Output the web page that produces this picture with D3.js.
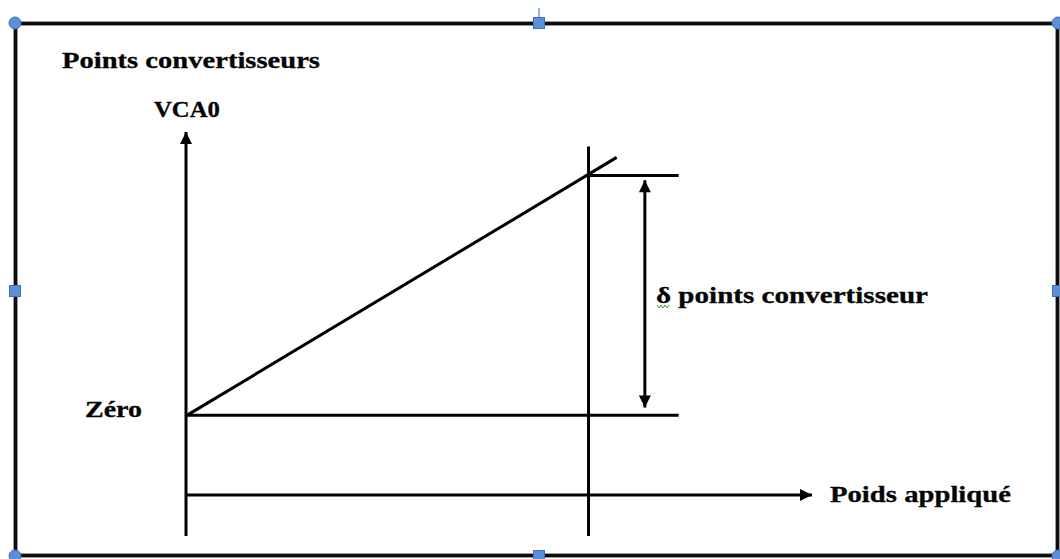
<!DOCTYPE html>
<html>
<head>
<meta charset="utf-8">
<script src="https://cdn.jsdelivr.net/npm/d3@7"></script>
<style>
  body { margin: 0; background: #fff; }
  text { font-family: "Liberation Serif", "DejaVu Serif", serif; font-weight: bold; fill: #050505; stroke: #050505; stroke-width: 0.3; }
</style>
</head>
<body>
<svg id="chart"></svg>
<script>
// schematic values (abstract units: weight 0..10, converter points 0..10)
const axisX = [0, 10];            // applied weight axis
const axisY = [-1.13, 10];        // converter points axis
const zeroLevel = 2.2;            // "Zéro"
const loadLevel = 8.8;            // reading under load
const loadWeight = 6.43;          // applied weight
const loadLineY = [-1.13, 9.6];   // vertical line at applied weight
const levelEnd = 7.87;            // end of the horizontal reference lines
const deltaX = 7.33;              // position of the delta arrow
const deltaRange = [8.67, 2.41];  // arrow tips
const calibLine = [[0.02, 2.2], [6.88, 9.3]];
const labels = {
  title: "Points convertisseurs",
  yName: "VCA0",
  zero: "Zéro",
  delta: "δ points convertisseur",
  xName: "Poids appliqué"
};

const width = 1060, height = 559;

const svg = d3.select("#chart")
    .attr("width", width)
    .attr("height", height);

const x = d3.scaleLinear().domain([0, 10]).range([186, 812]);
const y = d3.scaleLinear().domain([0, 10]).range([495, 132]);

// arrow head
const defs = svg.append("defs");
defs.append("marker")
    .attr("id", "head")
    .attr("viewBox", "0 0 10 10")
    .attr("refX", 10).attr("refY", 5)
    .attr("markerWidth", 4.2).attr("markerHeight", 4)
    .attr("markerUnits", "strokeWidth")
    .attr("orient", "auto-start-reverse")
    .append("path")
    .attr("d", "M0,0L10,5L0,10Z")
    .attr("fill", "#000");

// outer frame
svg.append("rect")
    .attr("x", 15.5).attr("y", 23.5)
    .attr("width", 1042).attr("height", 532)
    .attr("fill", "none").attr("stroke", "#9a9a9a").attr("stroke-width", 5);
svg.append("rect")
    .attr("x", 15.5).attr("y", 23.5)
    .attr("width", 1042).attr("height", 532)
    .attr("fill", "none").attr("stroke", "#0d0d0d").attr("stroke-width", 3);

const line = d3.line().x(d => x(d[0])).y(d => y(d[1]));

function seg(pts, opts) {
    const p = svg.append("path")
        .attr("d", line(pts))
        .attr("fill", "none")
        .attr("stroke", "#000")
        .attr("stroke-width", 3);
    if (opts && opts.end) p.attr("marker-end", "url(#head)");
    if (opts && opts.start) p.attr("marker-start", "url(#head)");
    return p;
}

// axes
seg([[0, axisY[0]], [0, axisY[1]]], { end: true });
seg([[axisX[0], 0], [axisX[1], 0]], { end: true });

// reference levels
seg([[0, zeroLevel], [levelEnd, zeroLevel]]);
seg([[loadWeight, loadLevel], [levelEnd, loadLevel]]);

// applied weight line
seg([[loadWeight, loadLineY[0]], [loadWeight, loadLineY[1]]]);

// calibration line
seg(calibLine);

// delta arrow
seg([[deltaX, deltaRange[0]], [deltaX, deltaRange[1]]], { start: true, end: true });

// labels
svg.append("text").attr("x", 62).attr("y", 68).attr("font-size", 23)
    .attr("textLength", 258).attr("lengthAdjust", "spacingAndGlyphs")
    .text(labels.title);
svg.append("text").attr("x", 154).attr("y", 117).attr("font-size", 23)
    .attr("textLength", 66).attr("lengthAdjust", "spacingAndGlyphs")
    .text(labels.yName);
svg.append("text").attr("x", 85).attr("y", 417).attr("font-size", 23)
    .attr("textLength", 57).attr("lengthAdjust", "spacingAndGlyphs")
    .text(labels.zero);
svg.append("text").attr("x", 656).attr("y", 303).attr("font-size", 23)
    .attr("textLength", 272).attr("lengthAdjust", "spacingAndGlyphs")
    .text(labels.delta);
svg.append("text").attr("x", 830).attr("y", 502).attr("font-size", 23)
    .attr("textLength", 181).attr("lengthAdjust", "spacingAndGlyphs")
    .text(labels.xName);

// spell-check squiggle under delta
svg.append("path")
    .attr("d", "M657,305l2,3l2,-3l2,3l2,-3l2,3l2,-3")
    .attr("fill", "none").attr("stroke", "#3aa53a").attr("stroke-width", 1);

// selection handles
const handleFill = "#5b8fd8", handleStroke = "#3f6fbf";
svg.append("line")
    .attr("x1", 539).attr("x2", 539).attr("y1", 8).attr("y2", 18)
    .attr("stroke", "#6f9be0").attr("stroke-width", 1.5);
[[15, 23], [1058, 23], [15, 556], [1058, 556]].forEach(c => {
    svg.append("circle").attr("cx", c[0]).attr("cy", c[1]).attr("r", 6)
        .attr("fill", handleFill).attr("stroke", handleStroke).attr("stroke-width", 1);
});
[[539, 23], [15, 291], [1058, 291], [539, 556]].forEach(c => {
    svg.append("rect").attr("x", c[0] - 5.5).attr("y", c[1] - 5.5)
        .attr("width", 11).attr("height", 11)
        .attr("fill", handleFill).attr("stroke", handleStroke).attr("stroke-width", 1);
});
</script>
</body>
</html>
